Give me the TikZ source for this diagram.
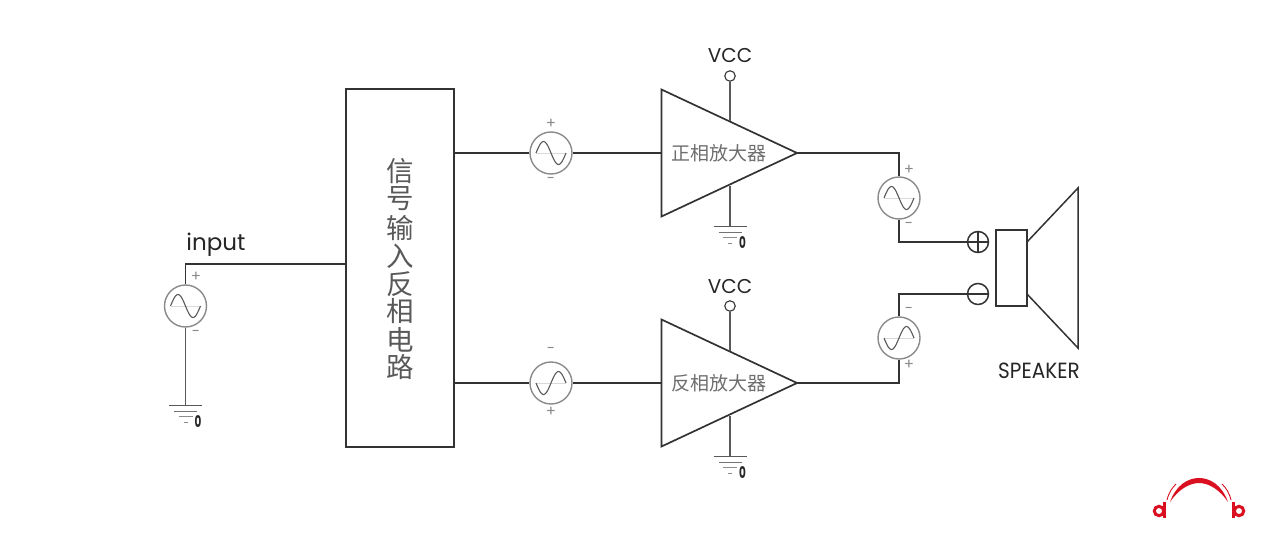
\documentclass[tikz,border=0pt]{standalone}
\usepackage{fontspec}
\setmainfont{Poppins}
\newfontfamily\cjk{Noto Sans CJK SC}
\usepackage{tikz}
\usetikzlibrary{calc}
\definecolor{wirecol}{HTML}{333333}
\definecolor{srccol}{HTML}{8A8A8A}
\definecolor{txtcol}{HTML}{6E6E6E}
\definecolor{logored}{HTML}{DA1021}

\begin{document}
\begin{tikzpicture}[x=1pt,y=-1pt,
  wire/.style={draw=wirecol,line width=1.5pt},
  greywire/.style={draw=black!65,line width=1.9pt},
  srcnode/.style={circle,draw=srccol,line width=1.4pt,minimum size=42pt,inner sep=0pt},
  sinecurve/.style={draw=black!65,line width=1.1pt},
  signtxt/.style={text=srccol,font=\fontsize{15}{15}\selectfont,inner sep=0pt},
  lbl/.style={text=black!85,inner sep=0pt},
  ampname/.style={text=txtcol,inner sep=0pt,font=\cjk\fontsize{19}{19}\selectfont},
  termnode/.style={circle,draw=wirecol,line width=1.5pt,minimum size=21pt,inner sep=0pt},
  vccnode/.style={circle,draw=wirecol,line width=1.1pt,minimum size=10.5pt,inner sep=0pt}]
\useasboundingbox (0,0) rectangle (1280,543);

% input side
\node[srcnode] (srcin) at (185.5,306) {};
\coordinate (incorner) at (185.5,264);
\coordinate (inend) at (346,264);
\coordinate (gndin) at (185.5,405);
\node[lbl,font=\fontsize{23}{23}\selectfont] (inputtxt) at (216,245) {input};

% block
\draw[wire,line width=1.3pt] (346,89) rectangle (454,447);
\coordinate (blkup) at (454,153);
\coordinate (blkdn) at (454,383);
\foreach \ch/\yy [count=\n] in {信/171,号/199,输/228,入/256,反/284,相/311,电/340,路/367}
  \node[text=black!65,inner sep=0pt,font=\cjk\fontsize{27.5}{28}\selectfont] (blk\n) at (400,\yy) {\ch};

% sources
\node[srcnode] (srcup) at (551,153) {};
\node[srcnode] (srcdn) at (551,383) {};
\node[srcnode] (srcoutup) at (899,198) {};
\node[srcnode] (srcoutdn) at (899,338) {};
\foreach \name/\s in {srcin/1,srcup/1,srcoutup/1,srcdn/-1,srcoutdn/-1}{
  \draw[black!15,line width=.5pt] ($(\name)+(-15,0)$) -- ($(\name)+(15,0)$);
  \draw[sinecurve,domain=-15:15,samples=40,variable=\x,shift={(\name)}] plot ({\x},{\s*11.5*sin(12*\x)});
}

% signs
\foreach \xx/\yy/\t [count=\n] in {196/277/+,196/333/-,551/124/+,551/180/-,551/350/-,551/412/+,909/170/+,909/225/-,909/310/-,909/365/+}
  \node[signtxt] (sign\n) at (\xx,\yy) {\t};

% amplifiers
\foreach \name/\yy/\t in {up/153/正相放大器,dn/383/反相放大器}{
  \coordinate (amp\name a) at (661.5,\yy-63.5);
  \coordinate (amp\name b) at (661.5,\yy+63.5);
  \coordinate (amp\name c) at (797,\yy);
  \coordinate (amp\name in) at (661.5,\yy);
  \draw[wire,line width=1.7pt] (amp\name a)--(amp\name b)--(amp\name c)--cycle;
  \node[ampname] (ampt\name) at (719,\yy) {\t};
  \node[vccnode] (vcc\name) at (730,\yy-77) {};
  \node[lbl,font=\fontsize{20}{20}\selectfont] (vcct\name) at (730,\yy-97) {VCC};
  \coordinate (amp\name top) at (730,\yy-32);
  \coordinate (amp\name bot) at (730,\yy+33);
  \coordinate (gnd\name) at (730,\yy+73);
  \draw[greywire] (vcc\name) -- (amp\name top);
  \draw[greywire] (amp\name bot) -- (gnd\name);
}

% grounds
\foreach \g in {gndin,gndup,gnddn}{
  \foreach \w/\d/\c in {16.5/0/65,11.5/6/55,7/11/45,2/17/45}
    \draw[black!\c,line width=.9pt] ($(\g)+(-\w,\d)$) -- ($(\g)+(\w,\d)$);
  \node[text=black!85,inner sep=0pt,xscale=.65,font=\bfseries\fontsize{16}{16}\selectfont] (\g txt) at ($(\g)+(12.5,16.5)$) {0};
}

% speaker
\node[termnode] (plus) at (978,242) {};
\node[termnode] (minus) at (978,294) {};
\draw[wirecol,line width=1.3pt] (plus.west)--(plus.east) (plus.north)--(plus.south) (minus.west)--(minus.east);
\draw[wire] (996,230) rectangle (1027,306);
\draw[wire] (1027,242)--(1078,188)--(1078,348)--(1027,294);
\node[lbl,xscale=.91,font=\fontsize{22}{22}\selectfont] (spktxt) at (1039,371) {SPEAKER};

% wires
\draw[wire] (srcin.north)--(incorner)--(inend);
\draw[greywire] (srcin.south)--(gndin);
\draw[wire] (blkup)--(srcup.west) (srcup.east)--(ampupin);
\draw[wire] (blkdn)--(srcdn.west) (srcdn.east)--(ampdnin);
\draw[wire] (ampupc)-|(srcoutup.north);
\draw[wire] (srcoutup.south)|-(plus.west);
\draw[wire] (ampdnc)-|(srcoutdn.south);
\draw[wire] (srcoutdn.north)|-(minus.west);

% logo
\fill[logored] (1170,502) .. controls (1176,485) and (1188,478) .. (1199,478) .. controls (1210,478) and (1222,485) .. (1228,502) .. controls (1220,490) and (1209,483) .. (1199,483) .. controls (1189,483) and (1178,490) .. cycle;
\draw[logored,line width=.9pt] (1167,500) .. controls (1169,492) and (1172,488) .. (1176,484);
\draw[logored,line width=.9pt] (1231,500) .. controls (1229,492) and (1226,488) .. (1222,484);
\draw[logored,line width=3pt] (1159,511) circle (4.7);
\draw[logored,line width=3pt] (1164.5,502)--(1164.5,517.5);
\draw[logored,line width=3pt] (1239,511) circle (4.7);
\draw[logored,line width=3pt] (1233.5,502)--(1233.5,517.5);
\end{tikzpicture}
\end{document}
